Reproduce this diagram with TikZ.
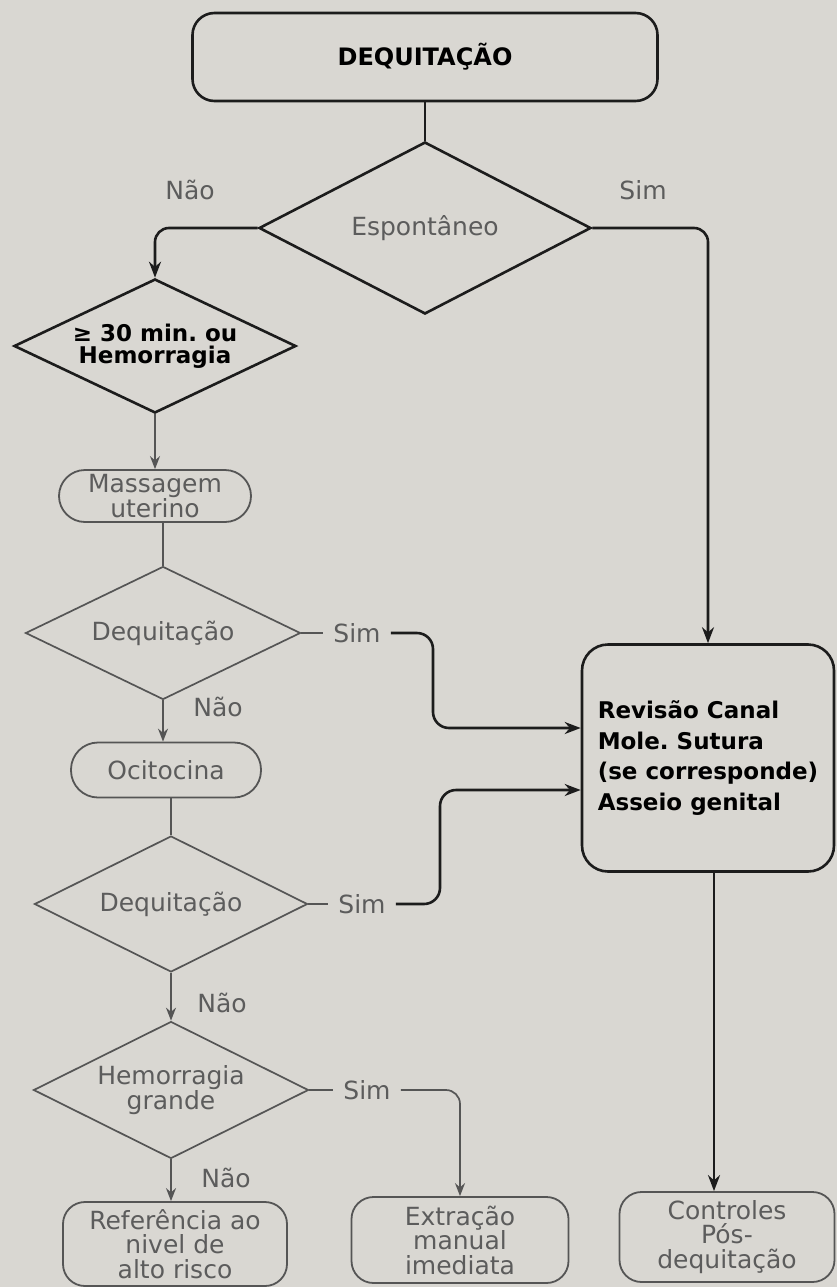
\documentclass[tikz,border=0pt]{standalone}
\usepackage{fontspec}
\setmainfont{DejaVu Sans}
\usetikzlibrary{shapes.geometric,arrows.meta,calc}
\definecolor{bg}{HTML}{D9D7D2}
\definecolor{ink}{HTML}{1C1C1C}
\definecolor{soft}{HTML}{555555}
\definecolor{softtxt}{HTML}{5C5C5C}
\frenchspacing
\begin{document}
\begin{tikzpicture}[x=1pt,y=-1pt,
  box/.style={draw=ink, line width=2.6pt, rounded corners=22pt, inner sep=0pt},
  gbox/.style={draw=soft, line width=1.8pt, rounded corners=22pt, text=softtxt, align=center, inner sep=0pt, font=\fontsize{25}{24.5}\selectfont},
  dia/.style={diamond, draw=ink, line width=2.6pt, inner sep=0pt, aspect=2},
  gdia/.style={diamond, draw=soft, line width=1.7pt, inner sep=0pt, aspect=2, text=softtxt, font=\fontsize{25}{22}\selectfont, align=center},
  lab/.style={text=softtxt, font=\fontsize{25}{25}\selectfont, inner xsep=10pt, inner ysep=2pt},
  blk/.style={draw=ink, line width=2.6pt},
  gln/.style={draw=soft, line width=1.7pt},
  barrow/.style={-{Stealth[length=16pt,width=12pt]}},
  garrow/.style={-{Stealth[length=13pt,width=10pt]}}]
\fill[bg] (0,0) rectangle (837,1287);
\useasboundingbox (0,0) rectangle (837,1287);

% nodes
\node[box, minimum width=465pt, minimum height=88pt, font=\bfseries\fontsize{24}{24}\selectfont] (dq) at (425,57) {DEQUITAÇÃO};
\node[dia, minimum width=332pt, minimum height=172pt, text=softtxt, font=\fontsize{25}{25}\selectfont] (esp) at (425,228) {Espontâneo};
\node[dia, minimum width=282pt, minimum height=134pt, align=center, font=\bfseries\fontsize{23}{22.5}\selectfont] (d2) at (155,346) {≥ 30 min. ou\\Hemorragia};
\node[gbox, minimum width=192pt, minimum height=52pt, rounded corners=26pt, font=\fontsize{25}{20}\selectfont] (mass) at (155,496) {Massagem\\uterino};
\node[gdia, minimum width=275pt, minimum height=133pt] (d3) at (163,633) {Dequitação};
\node[gbox, minimum width=190pt, minimum height=55pt, rounded corners=27pt] (oci) at (166,770) {Ocitocina};
\node[gdia, minimum width=273pt, minimum height=136pt] (d4) at (171,904) {Dequitação};
\node[gdia, minimum width=275pt, minimum height=137pt] (d5) at (171,1090) {Hemorragia\\grande};
\node[box, minimum width=252pt, minimum height=227pt, rounded corners=26pt, align=left, font=\bfseries\fontsize{23}{30.5}\selectfont] (rev) at (708,758) {Revisão Canal\\Mole. Sutura\\(se corresponde)\\Asseio genital};
\node[gbox, minimum width=224pt, minimum height=84pt] (ref) at (175,1244) {Referência ao\\nivel de\\alto risco};
\node[gbox, minimum width=217pt, minimum height=86pt] (ext) at (460,1240) {Extração\\manual\\imediata};
\node[gbox, minimum width=215pt, minimum height=90pt] (ctl) at (727,1237) {Controles\\Pós-\\dequitação};

% labels
\node[lab] (nao1) at (190,190) {Não};
\node[lab] (sim0) at (643,190) {Sim};
\node[lab] (s1) at (357,633) {Sim};
\node[lab] (nao3) at (218,707) {Não};
\node[lab] (s2) at (362,904) {Sim};
\node[lab] (nao4) at (222,1003) {Não};
\node[lab] (s3) at (367,1090) {Sim};
\node[lab] (nao5) at (226,1178) {Não};

% connectors
\draw[blk] (dq.south) -- (esp.north);
\draw[blk, barrow, rounded corners=14pt] (esp.west) -| (d2.north);
\draw[blk, barrow, rounded corners=14pt] (esp.east) -| (rev.north);
\draw[gln, garrow] (d2.south) -- (d2.south |- mass.north);
\draw[gln] (d3.north |- mass.south) -- (d3.north);
\draw[gln] (d3.east) -- (s1.west);
\coordinate (j1) at (433,728);
\draw[blk, barrow, rounded corners=16pt] (s1.east) -| (j1) -- (j1 -| rev.west);
\draw[gln, garrow] (d3.south) -- (d3.south |- oci.north);
\draw[gln] (d4.north |- oci.south) -- (d4.north);
\draw[gln] (d4.east) -- (s2.west);
\coordinate (j2) at (440,790);
\draw[blk, barrow, rounded corners=16pt] (s2.east) -| (j2) -- (j2 -| rev.west);
\draw[gln, garrow] (d4.south) -- (d5.north);
\draw[gln] (d5.east) -- (s3.west);
\draw[gln, garrow, rounded corners=14pt] (s3.east) -| (ext.north);
\draw[gln, garrow] (d5.south) -- (d5.south |- ref.north);
\draw[blk, barrow] ([xshift=6pt]rev.south) -- ([xshift=6pt]rev.south |- ctl.north);
\end{tikzpicture}
\end{document}
